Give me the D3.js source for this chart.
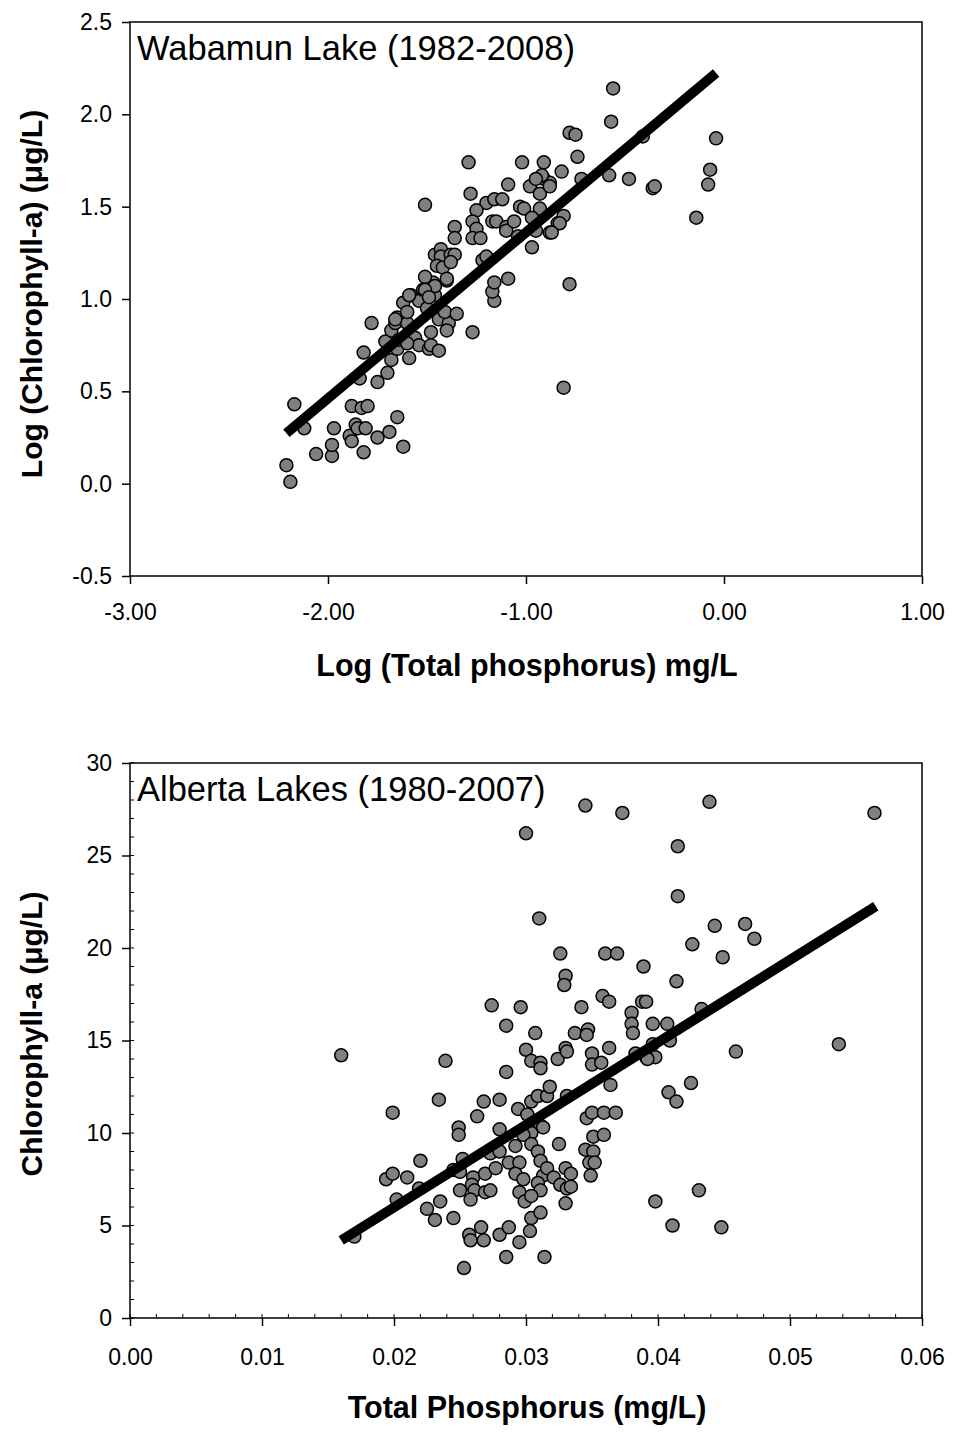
<!DOCTYPE html>
<html>
<head>
<meta charset="utf-8">
<script src="https://cdn.jsdelivr.net/npm/d3@7"></script>
<style>
  body { margin: 0; background: #fff; }
  svg text { font-family: "Liberation Sans", Arial, sans-serif; fill: #000; }
</style>
</head>
<body>
<svg id="chart"></svg>
<script>
// Wabamun Lake: log TP (mg/L) vs log chlorophyll-a
const wabLogTP = [-2.21,-2.19,-2.17,-2.12,-2.06,-1.98,-1.98,-1.97,-1.89,-1.88,-1.88,-1.86,-1.85,-1.81,-1.83,-1.80,-1.82,-1.75,-1.69,-1.65,-1.62,
  -1.82,-1.78,-1.84,-1.75,-1.70,-1.68,-1.71,-1.68,-1.66,-1.65,-1.60,-1.65,-1.64,-1.59,-1.56,-1.54,-1.60,-1.62,-1.58,-1.60,-1.54,-1.52,-1.47,-1.51,
  -1.48,-1.49,-1.48,-1.44,-1.44,-1.39,-1.41,-1.35,-1.40,-1.46,-1.40,-1.50,-1.27,-1.16,-1.17,-1.16,-1.09,-0.78,-0.81,-1.51,-1.28,-1.09,-0.98,-0.93,
  -0.91,-0.88,-1.20,-1.16,-1.12,-1.25,-1.36,-1.36,-1.27,-1.25,-1.27,-1.23,-1.17,-1.15,-1.10,-1.10,-1.06,-1.03,-1.01,-0.93,-0.97,-0.95,-0.88,-0.84,
  -0.97,-1.04,-1.46,-1.43,-1.43,-1.38,-1.36,-1.45,-1.42,-1.38,-1.40,-1.22,-1.20,-1.46,-1.51,-1.59,-1.49,-1.66,-1.29,-1.02,-0.91,-0.78,-0.75,-0.74,
  -0.82,-0.92,-0.95,-0.88,-0.81,-0.83,-0.72,-0.56,-0.57,-0.58,-0.48,-0.36,-0.35,-0.41,-0.04,-0.07,-0.08,-0.14,-0.87];
const wabLogChl = [0.10,0.01,0.43,0.30,0.16,0.15,0.21,0.30,0.26,0.23,0.42,0.32,0.30,0.30,0.41,0.42,0.17,0.25,0.28,0.36,0.20,
  0.71,0.87,0.57,0.55,0.60,0.67,0.77,0.83,0.87,0.90,0.87,0.73,0.78,0.68,0.79,0.75,0.76,0.98,1.02,0.93,0.99,1.05,1.09,1.12,
  0.82,0.73,0.75,0.72,0.89,0.87,0.93,0.92,0.83,1.02,1.10,0.95,0.82,0.99,1.04,1.09,1.11,1.08,0.52,1.51,1.57,1.62,1.61,1.57,
  1.65,1.63,1.52,1.54,1.54,1.48,1.39,1.33,1.42,1.38,1.33,1.33,1.42,1.42,1.39,1.37,1.42,1.50,1.49,1.49,1.44,1.37,1.36,1.41,
  1.28,1.34,1.24,1.27,1.23,1.24,1.24,1.18,1.17,1.20,1.11,1.21,1.23,1.07,1.05,1.02,1.01,0.89,1.74,1.74,1.74,1.90,1.89,1.77,
  1.69,1.67,1.65,1.61,1.45,1.41,1.65,2.14,1.96,1.67,1.65,1.60,1.61,1.88,1.87,1.70,1.62,1.44,1.36];
const wabFit = [2.26, 0.899];        // intercept, slope
const wabFitRange = [-2.21, -0.04];
const wabXTicks = [-3, -2, -1, 0, 1];
const wabYTicks = [-0.5, 0, 0.5, 1, 1.5, 2, 2.5];

// Alberta lakes: TP (mg/L) vs chlorophyll-a
const abTP = [0.0345,0.0373,0.0300,0.0310,0.0326,0.0360,0.0369,0.0389,0.0330,0.0329,0.0358,0.0363,0.0388,0.0391,0.0274,0.0296,0.0342,0.0380,
  0.0439,0.0564,0.0415,0.0415,0.0443,0.0466,0.0473,0.0426,0.0449,0.0414,0.0380,0.0381,0.0396,0.0407,0.0409,0.0433,0.0537,0.0459,0.0363,0.0398,
  0.0391,0.0383,0.0396,0.0285,0.0307,0.0337,0.0347,0.0346,0.0160,0.0239,0.0285,0.0300,0.0304,0.0311,0.0311,0.0324,0.0330,0.0331,0.0350,0.0350,
  0.0357,0.0364,0.0392,0.0234,0.0199,0.0268,0.0280,0.0263,0.0249,0.0249,0.0294,0.0304,0.0309,0.0316,0.0318,0.0331,0.0301,0.0280,0.0311,0.0313,
  0.0304,0.0298,0.0292,0.0304,0.0309,0.0311,0.0325,0.0346,0.0350,0.0359,0.0368,0.0351,0.0359,0.0345,0.0351,0.0348,0.0352,0.0349,0.0220,0.0252,
  0.0273,0.0280,0.0245,0.0250,0.0194,0.0199,0.0210,0.0219,0.0202,0.0260,0.0259,0.0269,0.0277,0.0287,0.0295,0.0292,0.0298,0.0313,0.0316,0.0321,
  0.0330,0.0334,0.0326,0.0331,0.0334,0.0309,0.0311,0.0295,0.0299,0.0304,0.0250,0.0261,0.0258,0.0269,0.0273,0.0225,0.0235,0.0231,0.0245,0.0330,
  0.0304,0.0311,0.0257,0.0258,0.0266,0.0268,0.0280,0.0287,0.0295,0.0303,0.0285,0.0314,0.0253,0.0170,0.0398,0.0408,0.0414,0.0425,0.0411,0.0431,0.0448];
const abChl = [27.7,27.3,26.2,21.6,19.7,19.7,19.7,19.0,18.5,18.0,17.4,17.1,17.1,17.1,16.9,16.8,16.8,16.5,
  27.9,27.3,25.5,22.8,21.2,21.3,20.5,20.2,19.5,18.2,15.9,15.4,15.9,15.9,15.0,16.7,14.8,14.4,14.6,14.1,
  14.1,14.3,14.8,15.8,15.4,15.4,15.6,15.3,14.2,13.9,13.3,14.5,13.9,13.8,13.5,14.0,14.6,14.4,14.3,13.7,
  13.8,12.6,14.0,11.8,11.1,11.7,11.8,10.9,10.3,9.9,11.3,11.7,12.0,12.0,12.5,12.0,11.0,10.2,10.4,10.3,
  10.0,9.9,9.3,9.4,9.0,8.5,9.4,10.8,11.1,11.1,11.1,9.8,9.9,9.1,9.0,8.4,8.4,7.7,8.5,8.6,
  8.9,9.0,8.0,7.9,7.5,7.8,7.6,7.0,6.4,7.6,7.2,7.8,8.1,8.4,8.4,7.8,7.5,7.7,8.1,7.6,
  8.1,7.8,7.2,7.0,7.1,7.3,6.9,6.8,6.3,6.6,6.9,6.9,6.4,6.8,6.9,5.9,6.3,5.3,5.4,6.2,
  5.4,5.7,4.5,4.2,4.9,4.2,4.5,4.9,4.1,4.7,3.3,3.3,2.7,4.4,6.3,12.2,11.7,12.7,5.0,6.9,4.9];
const abFit = [-2.94, 446];
const abFitRange = [0.016, 0.0565];
const abXTicks = [0, 0.01, 0.02, 0.03, 0.04, 0.05, 0.06];
const abYTicks = [0, 5, 10, 15, 20, 25, 30];

const W = 956, H = 1437;
const svg = d3.select('#chart').attr('width', W).attr('height', H);

// plain hyphen for negatives, like the original figure
const fmt = spec => d => d3.format(spec)(d).replace('\u2212', '-');

function drawPanel(opt) {
  const x = d3.scaleLinear().domain(opt.xDomain).range([130, 922]);
  const y = d3.scaleLinear().domain(opt.yDomain).range([opt.bottom, opt.top]);
  const g = svg.append('g');

  // minor ticks (inside)
  if (opt.xMinor) {
    g.append('g').selectAll('line').data(opt.xMinor).enter().append('line')
      .attr('x1', d => x(d)).attr('x2', d => x(d))
      .attr('y1', opt.bottom).attr('y2', opt.bottom - 4)
      .attr('stroke', '#000').attr('stroke-width', 1);
  }
  if (opt.yMinor) {
    g.append('g').selectAll('line').data(opt.yMinor).enter().append('line')
      .attr('x1', 130).attr('x2', 134)
      .attr('y1', d => y(d)).attr('y2', d => y(d))
      .attr('stroke', '#000').attr('stroke-width', 1);
  }

  // frame
  g.append('rect')
    .attr('x', 130).attr('y', opt.top)
    .attr('width', 792).attr('height', opt.bottom - opt.top)
    .attr('fill', 'none').attr('stroke', '#000').attr('stroke-width', 1.5);

  const xAxis = d3.axisBottom(x).tickValues(opt.xTicks).tickFormat(opt.xFmt)
    .tickSize(8).tickSizeOuter(0).tickPadding(opt.xPad);
  const xg = g.append('g').attr('transform', `translate(0,${opt.bottom})`).call(xAxis);
  const yAxis = d3.axisLeft(y).tickValues(opt.yTicks).tickFormat(opt.yFmt)
    .tickSize(8).tickSizeOuter(0).tickPadding(10);
  const yg = g.append('g').attr('transform', 'translate(130,0)').call(yAxis);
  [xg, yg].forEach(a => {
    a.select('.domain').remove();
    a.selectAll('line').attr('stroke', '#000').attr('stroke-width', 1.5);
    a.selectAll('text').style('font-family', '"Liberation Sans", Arial, sans-serif')
      .style('font-size', '23px').attr('fill', '#000');
  });

  // points
  g.append('g').selectAll('circle')
    .data(opt.xs.map((v, i) => [v, opt.ys[i]]))
    .enter().append('circle')
    .attr('cx', d => x(d[0])).attr('cy', d => y(d[1]))
    .attr('r', 6.5)
    .attr('fill', '#808080').attr('stroke', '#000').attr('stroke-width', 1.5);

  // regression line
  const fitLine = d3.line().x(d => x(d)).y(d => y(opt.fit[0] + opt.fit[1] * d));
  g.append('path').datum(opt.fitRange)
    .attr('d', fitLine).attr('stroke', '#000').attr('stroke-width', 10).attr('fill', 'none');

  // inset title
  g.append('text').attr('x', 137).attr('y', opt.top + 38)
    .style('font-size', '34.5px').text(opt.title);

  // axis titles
  g.append('text').attr('x', 527).attr('y', opt.bottom + 100)
    .attr('text-anchor', 'middle').style('font-size', '30.5px').style('font-weight', 'bold')
    .text(opt.xTitle);
  g.append('text')
    .attr('transform', `translate(42,${opt.yTitleY}) rotate(-90)`)
    .attr('text-anchor', 'middle').style('font-size', '30px').style('font-weight', 'bold')
    .text(opt.yTitle);
}

drawPanel({
  top: 22, bottom: 576,
  xDomain: [-3, 1], yDomain: [-0.5, 2.5],
  xTicks: wabXTicks, yTicks: wabYTicks, xPad: 20,
  xFmt: fmt('.2f'), yFmt: fmt('.1f'),
  xs: wabLogTP, ys: wabLogChl,
  fit: wabFit, fitRange: wabFitRange,
  title: 'Wabamun Lake (1982-2008)',
  xTitle: 'Log (Total phosphorus) mg/L',
  yTitle: 'Log (Chlorophyll-a) (\u03BCg/L)', yTitleY: 294
});

drawPanel({
  top: 763, bottom: 1318,
  xDomain: [0, 0.06], yDomain: [0, 30],
  xTicks: abXTicks, yTicks: abYTicks, xPad: 23,
  xFmt: fmt('.2f'), yFmt: fmt('d'),
  xMinor: d3.range(0, 0.0601, 0.002), yMinor: d3.range(0, 30.1, 1),
  xs: abTP, ys: abChl,
  fit: abFit, fitRange: abFitRange,
  title: 'Alberta Lakes (1980-2007)',
  xTitle: 'Total Phosphorus (mg/L)',
  yTitle: 'Chlorophyll-a (\u03BCg/L)', yTitleY: 1034
});
</script>
</body>
</html>
